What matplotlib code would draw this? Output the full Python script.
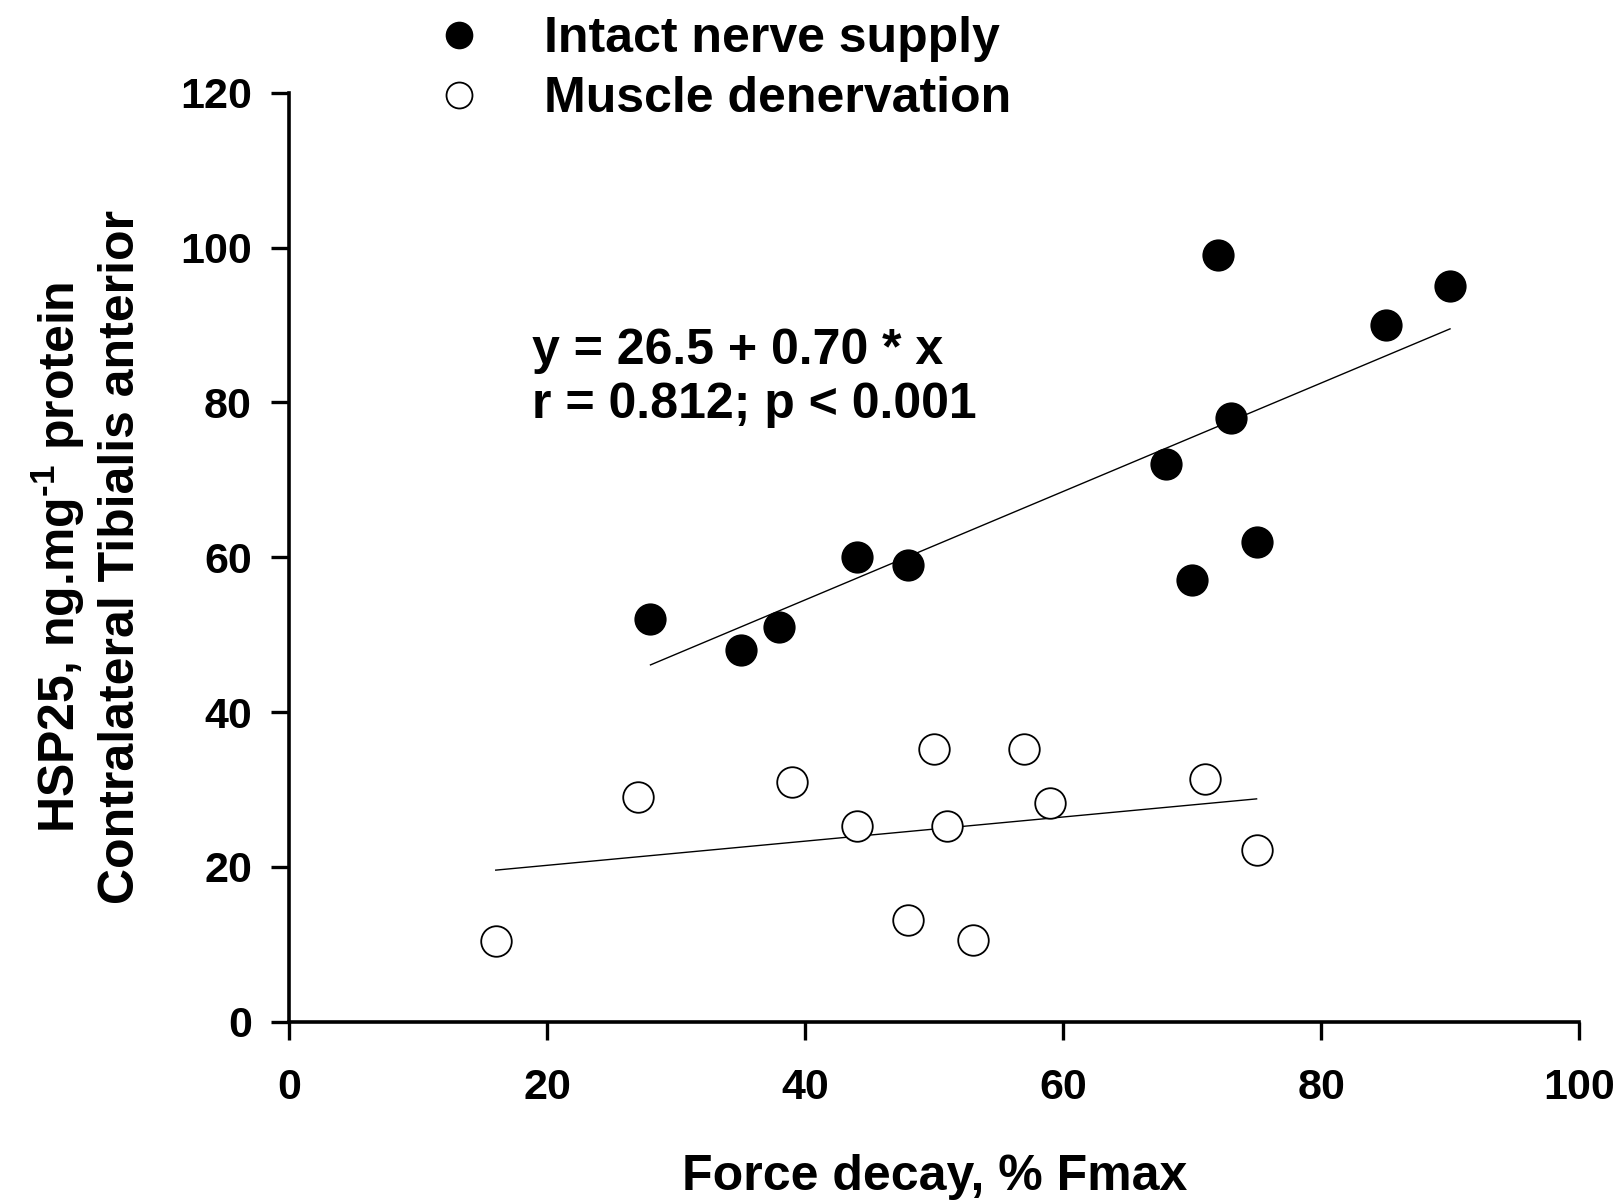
import numpy as np
import matplotlib
matplotlib.use("Agg")
import matplotlib.pyplot as plt

# Data
intact_x = [28, 35, 38, 44, 48, 68, 70, 72, 73, 75, 85, 90]
intact_y = [52, 48, 51, 60, 59, 72, 57, 99, 78, 62, 90, 95]
denerv_x = [16, 27, 39, 44, 48, 50, 51, 53, 57, 59, 71, 75]
denerv_y = [10.5, 29, 31, 25.3, 13.2, 35.3, 25.3, 10.6, 35.3, 28.2, 31.3, 22.2]
intact_fit = (26.5, 0.70)  # intercept, slope
x_ticks = [0, 20, 40, 60, 80, 100]
y_ticks = [0, 20, 40, 60, 80, 100, 120]

plt.rcParams['font.family'] = ['Liberation Sans', 'DejaVu Sans']
plt.rcParams['font.weight'] = 'bold'
plt.rcParams['mathtext.fontset'] = 'custom'
plt.rcParams['mathtext.rm'] = 'Liberation Sans:bold'
plt.rcParams['mathtext.bf'] = 'Liberation Sans:bold'
plt.rcParams['mathtext.it'] = 'Liberation Sans:bold'

fig = plt.figure(figsize=(16.15, 12.04), dpi=100)
ax = fig.add_axes([0.1792, 0.1513, 0.9777 - 0.1792, 0.923 - 0.1513])
ax.set_xlim(0, 100)
ax.set_ylim(0, 120)

# fit lines
xi = np.array([min(intact_x), max(intact_x)])
ax.plot(xi, intact_fit[0] + intact_fit[1] * xi, color='black', lw=1.0, zorder=1)
b, a = np.polyfit(denerv_x, denerv_y, 1)
xd = np.array([min(denerv_x), max(denerv_x)])
ax.plot(xd, a + b * xd, color='black', lw=1.0, zorder=1)

ms = 22
ax.plot(intact_x, intact_y, 'o', ms=ms, mfc='black', mec='black', mew=1.2,
        label='Intact nerve supply', zorder=3, clip_on=False)
ax.plot(denerv_x, denerv_y, 'o', ms=ms, mfc='white', mec='black', mew=1.3,
        label='Muscle denervation', zorder=3, clip_on=False)

for s in ['top', 'right']:
    ax.spines[s].set_visible(False)
for s in ['left', 'bottom']:
    ax.spines[s].set_linewidth(2.6)

ax.set_xticks(x_ticks)
ax.set_yticks(y_ticks)
ax.tick_params(axis='both', direction='out', length=13, width=2.4, labelsize=31)
ax.tick_params(axis='x', pad=20)
ax.tick_params(axis='y', pad=14)
for lab in ax.get_xticklabels() + ax.get_yticklabels():
    lab.set_fontweight('bold')

ax.set_xlabel('Force decay, % Fmax', fontsize=36, fontweight='bold', labelpad=33)
ax.set_ylabel('HSP25, ng.mg$^{\\text{-1}}$ protein\nContralateral Tibialis anterior',
              fontsize=36, fontweight='bold', labelpad=26, linespacing=1.3)

ax.text(0.188, 0.693, 'y = 26.5 + 0.70 * x\nr = 0.812; p < 0.001',
        transform=ax.transAxes, fontsize=36, fontweight='bold',
        va='center', ha='left', linespacing=1.2)

leg = ax.legend(loc='upper left', bbox_to_anchor=(0.2563, 1.003), bbox_transform=fig.transFigure,
                frameon=False, fontsize=36, handlelength=1.0, handletextpad=1.2,
                labelspacing=0.28, borderaxespad=0.0, markerscale=0.85)
for t in leg.get_texts():
    t.set_fontweight('bold')

fig.savefig('out.png', dpi=100)
